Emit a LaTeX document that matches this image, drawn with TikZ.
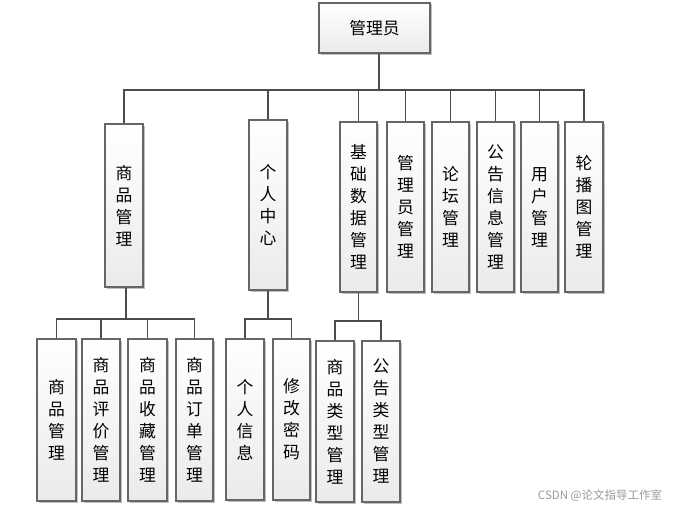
\documentclass[tikz,border=0pt]{standalone}
\usepackage{fontspec}
\newfontfamily\cjk{Noto Sans CJK SC}
\usetikzlibrary{shadows}
\begin{document}
\begin{tikzpicture}[x=1pt,y=-1pt,
  box/.style={draw=black!60, line width=1.2pt, top color=white, bottom color=black!8,
    drop shadow={shadow xshift=1.5pt, shadow yshift=-1.5pt, opacity=0.25, fill=black},
    inner sep=0pt, align=center, font=\cjk\fontsize{16.8}{22}\selectfont},
  conn/.style={draw=black!70, line width=1.5pt}]
\useasboundingbox (0,0) rectangle (676,511);
% root
\node[box, minimum width=111pt, minimum height=50pt] (root) at (374.5,28) {管理员};
% level 1
\node[box, minimum width=38pt, minimum height=163pt] (n1) at (124,205.5) {商\\品\\管\\理};
\node[box, minimum width=38pt, minimum height=170pt] (n2) at (268,205) {个\\人\\中\\心};
\node[box, minimum width=37pt, minimum height=170pt] (n3) at (358.5,207) {基\\础\\数\\据\\管\\理};
\node[box, minimum width=37pt, minimum height=170pt] (n4) at (405.5,207) {管\\理\\员\\管\\理};
\node[box, minimum width=37pt, minimum height=170pt] (n5) at (450.5,207) {论\\坛\\管\\理};
\node[box, minimum width=37pt, minimum height=170pt] (n6) at (495.5,207) {公\\告\\信\\息\\管\\理};
\node[box, minimum width=37pt, minimum height=170pt] (n7) at (539.5,207) {用\\户\\管\\理};
\node[box, minimum width=38pt, minimum height=170pt] (n8) at (584,207) {轮\\播\\图\\管\\理};
% level 2
\node[box, minimum width=39pt, minimum height=162pt] (m1) at (56.5,420) {商\\品\\管\\理};
\node[box, minimum width=38pt, minimum height=162pt] (m2) at (101,420) {商\\品\\评\\价\\管\\理};
\node[box, minimum width=39pt, minimum height=162pt] (m3) at (147.5,420) {商\\品\\收\\藏\\管\\理};
\node[box, minimum width=37pt, minimum height=162pt] (m4) at (194.5,420) {商\\品\\订\\单\\管\\理};
\node[box, minimum width=38pt, minimum height=161pt] (m5) at (245,419.5) {个\\人\\信\\息};
\node[box, minimum width=37pt, minimum height=161pt] (m6) at (291.5,419.5) {修\\改\\密\\码};
\node[box, minimum width=38pt, minimum height=161pt] (m7) at (335,421.5) {商\\品\\类\\型\\管\\理};
\node[box, minimum width=38pt, minimum height=161pt] (m8) at (381,421.5) {公\\告\\类\\型\\管\\理};
% connectors
\coordinate (t0) at ([xshift=4.5pt]root.south);
\coordinate (b0) at (t0 |- 0,90);
\draw[conn] (t0) -- (b0);
\foreach \c in {n1,n2,n3,n4,n5,n6,n7,n8} \draw[conn] (\c.north) |- (b0);
\coordinate (t1) at ([xshift=2pt]n1.south);
\coordinate (b1) at (t1 |- 0,319);
\draw[conn] (t1) -- (b1);
\foreach \c in {m1,m2,m3,m4} \draw[conn] (\c.north) |- (b1);
\coordinate (b2) at (n2.south |- 0,319);
\draw[conn] (n2.south) -- (b2);
\foreach \c in {m5,m6} \draw[conn] (\c.north) |- (b2);
\coordinate (b3) at (n3.south |- 0,321);
\draw[conn] (n3.south) -- (b3);
\foreach \c in {m7,m8} \draw[conn] (\c.north) |- (b3);
% watermark
\node[text=black!40, font=\cjk\fontsize{11.5}{13}\selectfont, inner sep=0pt] (wm) at (600,496) {CSDN @论文指导工作室};
\end{tikzpicture}
\end{document}
